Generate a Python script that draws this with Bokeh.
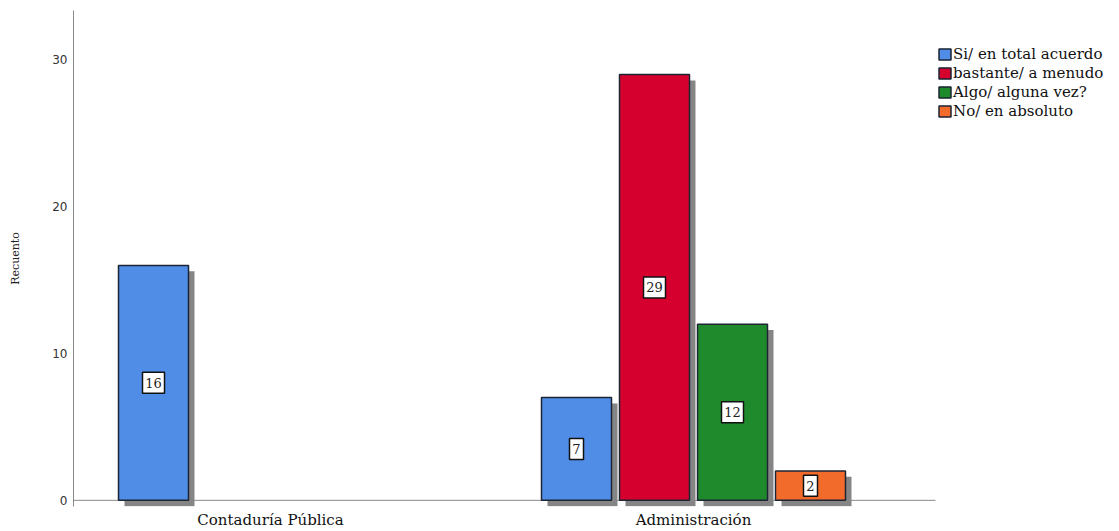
from bokeh.plotting import figure
from bokeh.models import ColumnDataSource, Legend, LegendItem, FixedTicker, Range1d
from bokeh.core.properties import value
from bokeh.embed import file_html
from bokeh.resources import INLINE

categories = ["Contaduría Pública", "Administración"]
series = ["Si/ en total acuerdo", "bastante/ a menudo", "Algo/ alguna vez?", "No/ en absoluto"]
si_total = [16, 7]
bastante = [0, 29]
algo = [0, 12]
no_abs = [0, 2]
values = [si_total, bastante, algo, no_abs]
colors = ["#4F8DE6", "#D6002E", "#1F8A2C", "#F26B2A"]
y_ticks = [0, 10, 20, 30]

px = 1 / 423          # one screen pixel in x data units
slot = 78 * px
bar_w = 70 * px
sh_dx = 6 * px
sh_dy = 0.4
x_start = -197 * px
axis_end = 665 * px   # where the baseline ends (right edge of the plotting area)

p = figure(width=1119, height=531, output_backend="svg", toolbar_location=None,
           x_range=Range1d(x_start, 1044 * px + x_start), y_range=Range1d(-0.42, 33.36),
           min_border_left=73, min_border_right=2, min_border_top=10, min_border_bottom=22)
p.outline_line_color = None
p.xgrid.visible = False
p.ygrid.visible = False
p.background_fill_color = "white"

# baseline (x axis line)
p.segment(x0=[x_start], y0=[0], x1=[axis_end], y1=[0], line_color="#8a8a8a", line_width=1)

items = []
for s, (name, vals, col) in enumerate(zip(series, values, colors)):
    xs, ys = [], []
    for g, v in enumerate(vals):
        if v > 0:
            xs.append(g + (s - 1.5) * slot)
            ys.append(v)
    src = ColumnDataSource(dict(
        x=xs, top=ys, half=[v / 2 for v in ys], lbl=[str(v) for v in ys],
        bw=[14 if v < 10 else 22 for v in ys],
        sl=[x - bar_w / 2 + sh_dx for x in xs], sr=[x + bar_w / 2 + sh_dx for x in xs],
        st=[v - sh_dy for v in ys], sb=[-sh_dy for _ in ys]))
    p.quad(left="sl", right="sr", top="st", bottom="sb", source=src,
           fill_color="#858585", line_color=None)
    r = p.vbar(x="x", top="top", bottom=0, width=bar_w, source=src,
               fill_color=col, line_color="#1d2535", line_width=1.5)
    items.append(LegendItem(label=name, renderers=[r]))
    p.rect(x="x", y="half", width="bw", height=21, width_units="screen", height_units="screen",
           source=src, fill_color="white", line_color="#111111", line_width=1.5)
    p.text(x="x", y="half", text="lbl", source=src, text_align="center", text_baseline="middle",
           text_font=value("DejaVu Serif"), text_font_size="13px", text_color="#222222")

legend = Legend(items=items, location=(864, 386), margin=0, padding=0, spacing=1,
                glyph_width=15, glyph_height=14, label_height=15, label_standoff=1,
                label_text_font="DejaVu Serif", label_text_font_size="15px",
                label_text_color="#111111", border_line_color=None,
                background_fill_alpha=0)
p.add_layout(legend, "center")

p.yaxis.ticker = FixedTicker(ticks=y_ticks)
p.yaxis.major_tick_line_color = None
p.yaxis.minor_tick_line_color = None
p.yaxis.major_tick_out = 0
p.yaxis.major_tick_in = 0
p.yaxis.axis_line_color = "#8a8a8a"
p.yaxis.major_label_text_font = "DejaVu Sans"
p.yaxis.major_label_text_font_size = "12px"
p.yaxis.major_label_text_color = "#333333"
p.yaxis.major_label_standoff = 6
p.yaxis.axis_label = "Recuento"
p.yaxis.axis_label_text_font = "DejaVu Serif"
p.yaxis.axis_label_text_font_size = "11px"
p.yaxis.axis_label_text_font_style = "normal"
p.yaxis.axis_label_text_color = "#222222"
p.yaxis.axis_label_standoff = 27

p.xaxis.ticker = FixedTicker(ticks=[0, 1])
p.xaxis.major_label_overrides = {0: categories[0], 1: categories[1]}
p.xaxis.major_tick_line_color = None
p.xaxis.minor_tick_line_color = None
p.xaxis.major_tick_out = 0
p.xaxis.major_tick_in = 0
p.xaxis.axis_line_color = None
p.xaxis.major_label_text_font = "DejaVu Serif"
p.xaxis.major_label_text_font_size = "15px"
p.xaxis.major_label_text_color = "#111111"
p.xaxis.major_label_standoff = 4

open("out.html", "w").write(file_html(p, INLINE))
